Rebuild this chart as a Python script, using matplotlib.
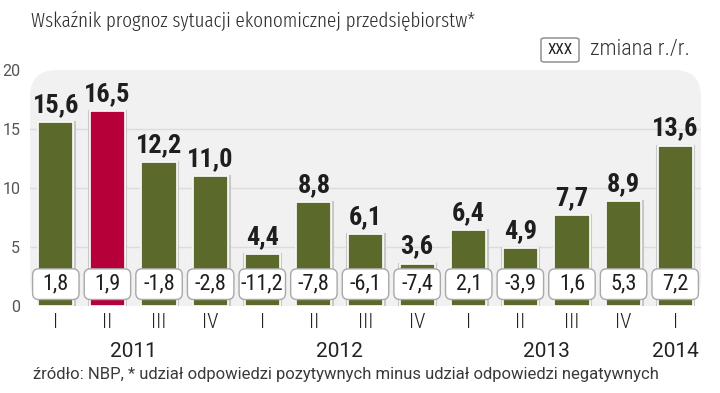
import matplotlib
matplotlib.use("Agg")
import matplotlib.pyplot as plt
from matplotlib.patches import FancyBboxPatch
from matplotlib import font_manager

quarters = ["I", "II", "III", "IV", "I", "II", "III", "IV", "I", "II", "III", "IV", "I"]
values = [15.6, 16.5, 12.2, 11.0, 4.4, 8.8, 6.1, 3.6, 6.4, 4.9, 7.7, 8.9, 13.6]
changes = ["1,8", "1,9", "-1,8", "-2,8", "-11,2", "-7,8", "-6,1", "-7,4", "2,1", "-3,9", "1,6", "5,3", "7,2"]
years = ["2011", "2012", "2013", "2014"]
year_pos = [1.5, 5.5, 9.5, 12]
highlight = 1
yticks = [0, 5, 10, 15, 20]

names = {f.name for f in font_manager.fontManager.ttflist}
def pick(cands):
    for c in cands:
        if c in names:
            return c
    return "DejaVu Sans"

COND = pick(["Roboto Condensed", "Fira Sans Condensed", "Asap Condensed", "Archivo Narrow",
             "PT Sans Narrow", "Barlow Condensed", "Liberation Sans Narrow"])
XCOND = pick(["Fira Sans Extra Condensed", "Barlow Condensed", "Roboto Condensed", "Asap Condensed"])
REG = pick(["Roboto", "Open Sans", "Lato", "DejaVu Sans"])

OLIVE = "#5b6a2b"
RED = "#b5003a"

fig = plt.figure(figsize=(7.2, 3.93), dpi=100)
ax = fig.add_axes([30/720, 1-306/393, (701-30)/720, (306-70)/393])
ax.set_xlim(-0.5, 12.5)
ax.set_ylim(0, 20)
ax.patch.set_visible(False)
for s in ax.spines.values():
    s.set_visible(False)

bg = FancyBboxPatch((0, 0), 1, 1, boxstyle="round,pad=0,rounding_size=0.04",
                    mutation_aspect=671/236, transform=ax.transAxes,
                    facecolor="#f1f1f1", edgecolor="none", zorder=0)
ax.add_patch(bg)
for y in yticks[1:-1]:
    ax.axhline(y, color="#dcdcdc", lw=1, zorder=0.5)

colors = [RED if i == highlight else OLIVE for i in range(len(values))]
x = list(range(len(values)))
ax.bar(x, values, width=0.7, color="none", edgecolor="#c8c8c8", linewidth=2.2, zorder=1.5)
ax.bar(x, values, width=0.68, color=colors, edgecolor="white", linewidth=1.2, zorder=2)

for i, v in enumerate(values):
    ax.text(i, v + 0.85, f"{v:.1f}".replace(".", ","), ha="center", va="baseline",
            fontsize=19, fontweight="bold", family=COND, color="#1e1e1e", zorder=4)

bw, bh, by = 0.9, 2.6, 0.55
for i, c in enumerate(changes):
    p = FancyBboxPatch((i - bw/2, by), bw, bh, boxstyle="round,pad=0,rounding_size=0.12",
                       mutation_aspect=4.4, facecolor="white", edgecolor="#a8a8a8",
                       linewidth=1.0, zorder=3)
    ax.add_patch(p)
    ax.text(i, by + bh/2, c, ha="center", va="center", fontsize=16,
            family=COND, color="#1e1e1e", zorder=4)

ax.set_yticks(yticks)
ax.set_yticklabels([str(t) for t in yticks], fontsize=11.5, color="#555555", family=REG)
ax.tick_params(axis="y", length=0, pad=7)
ax.set_xticks(x)
ax.set_xticklabels(quarters, fontsize=15, color="#222222", family=COND, fontweight="light")
ax.tick_params(axis="x", length=0, pad=5)

for yl, xp in zip(years, year_pos):
    ax.text(xp, -3.85, yl, ha="center", va="center", fontsize=15, color="#222222",
            family=REG, clip_on=False)

fig.text(31/720, 1-21/393, "Wskaźnik prognoz sytuacji ekonomicznej przedsiębiorstw*",
         fontsize=15, color="#2e2e2e", family=XCOND, fontweight=300, va="center", ha="left")
fig.text(33/720, 1-375/393, "źródło: NBP, * udział odpowiedzi pozytywnych minus udział odpowiedzi negatywnych",
         fontsize=12, color="#3a3a3a", family=REG, va="center", ha="left")

lb = FancyBboxPatch((541/720, 1-62/393), 38/720, 24/393, boxstyle="round,pad=0,rounding_size=0.005",
                    transform=fig.transFigure, facecolor="white", edgecolor="#999999", lw=1.2)
fig.add_artist(lb)
fig.text(560/720, 1-50/393, "XXX", fontsize=11, family=COND, color="#1e1e1e", ha="center", va="center")
fig.text(590/720, 1-50/393, "zmiana r./r.", fontsize=16, family=COND, fontweight="light",
         color="#333333", ha="left", va="center")

fig.savefig("out.png", dpi=100)
